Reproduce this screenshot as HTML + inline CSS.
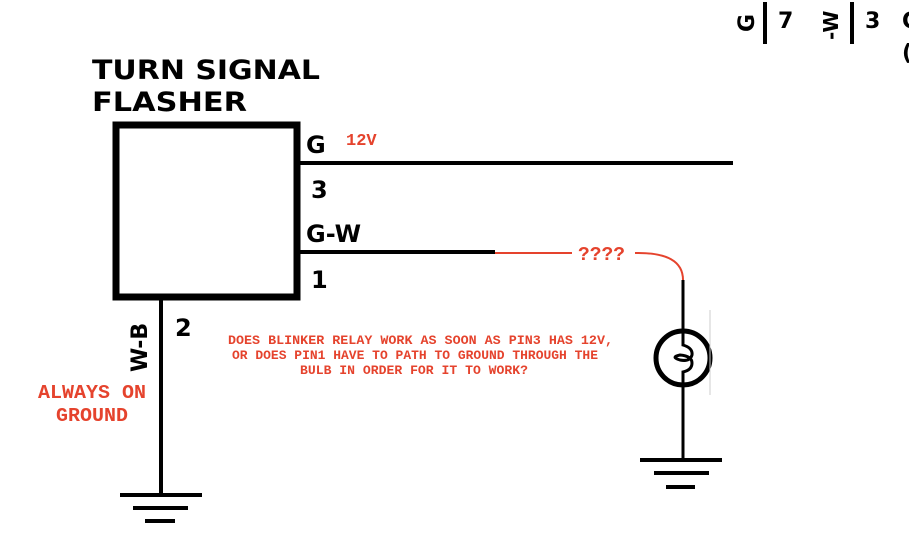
<!DOCTYPE html>
<html><head><style>
body{margin:0;background:#fff;}
svg{display:block;}
.b{font-family:"DejaVu Sans","Liberation Sans",sans-serif;font-weight:bold;fill:#000;}
.r{font-family:"Liberation Mono",monospace;font-weight:bold;fill:#e5432d;}
</style></head><body>
<svg width="909" height="533" viewBox="0 0 909 533" xmlns="http://www.w3.org/2000/svg">
<text class="b" x="92" y="79" font-size="27" textLength="228" lengthAdjust="spacingAndGlyphs">TURN SIGNAL</text>
<text class="b" x="92" y="111" font-size="27" textLength="155" lengthAdjust="spacingAndGlyphs">FLASHER</text>
<rect x="116" y="125" width="181" height="172" fill="none" stroke="#000" stroke-width="7"/>
<line x1="297" y1="163" x2="733" y2="163" stroke="#000" stroke-width="4"/>
<line x1="297" y1="252" x2="495" y2="252" stroke="#000" stroke-width="4"/>
<line x1="495" y1="253" x2="572" y2="253" stroke="#e5432d" stroke-width="2"/>
<path d="M635 253 Q683 252 683 280" fill="none" stroke="#e5432d" stroke-width="2"/>
<line x1="683" y1="280" x2="683" y2="460" stroke="#000" stroke-width="3"/>
<circle cx="683" cy="358" r="27" fill="#fff" stroke="#000" stroke-width="5"/>
<path d="M683 331 V345 Q693 348 692 355 Q690 362 680 360 Q670 357 680 355 Q692 356 692 363 Q692 370 683 372 V385" fill="none" stroke="#000" stroke-width="3"/>
<line x1="640" y1="460" x2="722" y2="460" stroke="#000" stroke-width="4"/>
<line x1="654" y1="473" x2="709" y2="473" stroke="#000" stroke-width="4"/>
<line x1="666" y1="487" x2="695" y2="487" stroke="#000" stroke-width="4"/>
<line x1="161" y1="297" x2="161" y2="495" stroke="#000" stroke-width="4"/>
<line x1="120" y1="495" x2="202" y2="495" stroke="#000" stroke-width="4"/>
<line x1="133" y1="508" x2="188" y2="508" stroke="#000" stroke-width="4"/>
<line x1="145" y1="521" x2="175" y2="521" stroke="#000" stroke-width="4"/>
<text class="b" x="306" y="153" font-size="24">G</text>
<text class="b" x="311" y="198" font-size="24">3</text>
<text class="b" x="306" y="242" font-size="24">G-W</text>
<text class="b" x="311" y="288" font-size="24">1</text>
<text class="b" x="175" y="336" font-size="24">2</text>
<text class="b" x="0" y="0" font-size="22" transform="translate(147,372) rotate(-90)">W-B</text>
<text class="r" x="346" y="145" font-size="17">12V</text>
<text class="r" x="578" y="260" font-size="19" textLength="47" lengthAdjust="spacingAndGlyphs">????</text>
<text class="r" x="38" y="398" font-size="19" textLength="108" lengthAdjust="spacingAndGlyphs">ALWAYS ON</text>
<text class="r" x="56" y="421" font-size="19" textLength="72" lengthAdjust="spacingAndGlyphs">GROUND</text>
<text class="r" x="228" y="344" font-size="12.5" textLength="385" lengthAdjust="spacingAndGlyphs">DOES BLINKER RELAY WORK AS SOON AS PIN3 HAS 12V,</text>
<text class="r" x="232" y="359" font-size="12.5" textLength="366" lengthAdjust="spacingAndGlyphs">OR DOES PIN1 HAVE TO PATH TO GROUND THROUGH THE</text>
<text class="r" x="300" y="374" font-size="12.5" textLength="228" lengthAdjust="spacingAndGlyphs">BULB IN ORDER FOR IT TO WORK?</text>
<text class="b" x="0" y="0" font-size="22" transform="translate(754,32) rotate(-90)">G</text>
<line x1="765" y1="2" x2="765" y2="44" stroke="#000" stroke-width="4"/>
<text class="b" x="778" y="28" font-size="22">7</text>
<text class="b" x="0" y="0" font-size="20" transform="translate(838,40) rotate(-90)">-W</text>
<line x1="852" y1="2" x2="852" y2="44" stroke="#000" stroke-width="4"/>
<text class="b" x="865" y="28" font-size="22">3</text>
<text class="b" x="902" y="28" font-size="22">G</text>
<text class="b" x="902" y="60" font-size="22">(</text>
<line x1="710" y1="310" x2="710" y2="395" stroke="#ccc" stroke-width="1"/>
</svg>
</body></html>
